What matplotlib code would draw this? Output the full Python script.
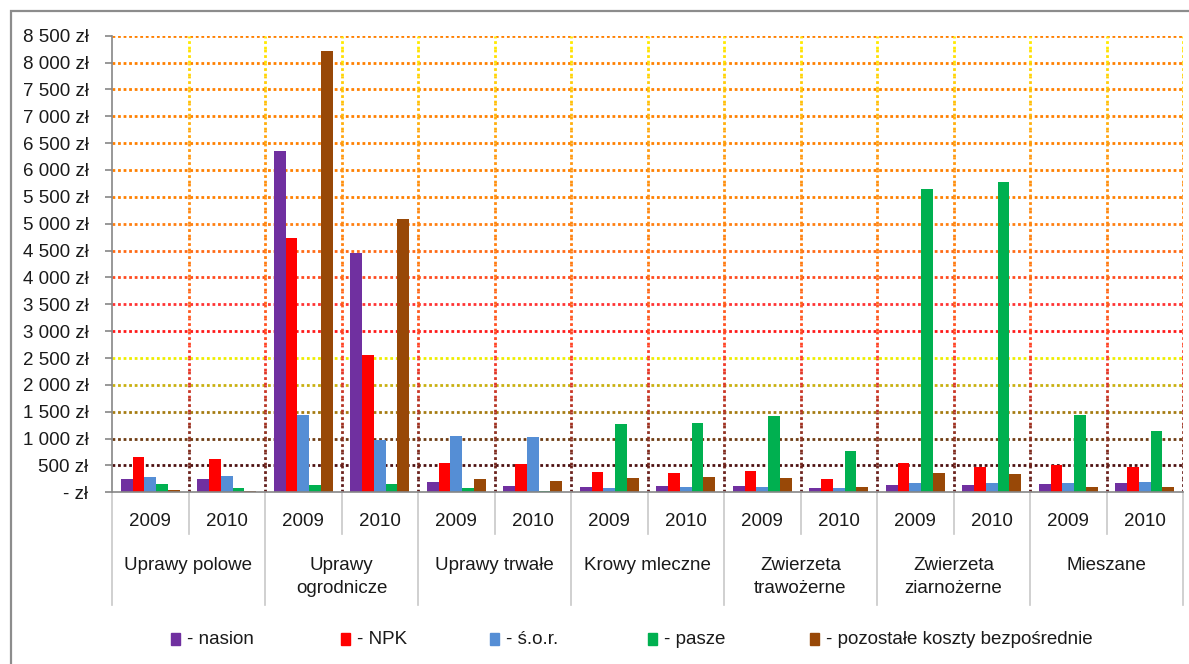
import matplotlib
matplotlib.use("Agg")
import matplotlib.pyplot as plt
import numpy as np
from matplotlib.patches import Rectangle
from matplotlib.lines import Line2D
from matplotlib.colors import LinearSegmentedColormap

# ---------------- data ----------------
groups = ["Uprawy polowe", "Uprawy\nogrodnicze", "Uprawy trwałe", "Krowy mleczne",
          "Zwierzeta\ntrawożerne", "Zwierzeta\nziarnożerne", "Mieszane"]
years = ["2009", "2010"]
series_names = ["- nasion", "- NPK", "- ś.o.r.", "- pasze", "- pozostałe koszty bezpośrednie"]
series_colors = ["#7030A0", "#FF0000", "#558ED5", "#00B050", "#984807"]

nasion    = [242, 242, 6350, 4451, 186, 112, 93, 112, 112, 74, 143, 143, 158, 177]
npk       = [651, 614, 4730, 2554, 539, 521, 372, 353, 391, 242, 552, 478, 517, 479]
sor       = [279, 298, 1438, 973, 1042, 1023, 74, 93, 93, 74, 180, 180, 177, 195]
pasze     = [149, 74, 136, 155, 74, 19, 1265, 1283, 1414, 763, 5649, 5779, 1443, 1141]
pozostale = [37, 19, 8208, 5084, 242, 205, 260, 279, 260, 93, 366, 348, 101, 101]
series = [nasion, npk, sor, pasze, pozostale]

yticks = list(range(0, 8501, 500))
ytick_labels = ["- zł", "500 zł", "1 000 zł", "1 500 zł", "2 000 zł", "2 500 zł", "3 000 zł",
                "3 500 zł", "4 000 zł", "4 500 zł", "5 000 zł", "5 500 zł", "6 000 zł",
                "6 500 zł", "7 000 zł", "7 500 zł", "8 000 zł", "8 500 zł"]

# gridline colours per level (500 .. 8500)
hgrid_colors = ["#4d1010", "#6e3b12", "#a67c12", "#c9b010", "#eeee00", "#ff1a1a", "#ff3333",
                "#ff4a1f", "#ff6a15", "#ff7f10", "#ff8000", "#ff8000", "#ff8000", "#ff8000",
                "#ff8000", "#ff8000", "#ff8000"]

# ---------------- figure ----------------
W, H = 1189, 664
FONT = ["Liberation Sans", "DejaVu Sans"]
FS = 13.5
TXT = "#1a1a1a"
plt.rcParams["font.family"] = FONT
fig = plt.figure(figsize=(W / 100, H / 100), dpi=100)

ax_left, ax_right, ax_top, ax_bot = 112, 1183, 35.7, 492.3
ax = fig.add_axes([ax_left / W, 1 - ax_bot / H, (ax_right - ax_left) / W, (ax_bot - ax_top) / H])

n = len(nasion)
x = np.arange(n)
bw = 0.154
for j, (vals, col, name) in enumerate(zip(series, series_colors, series_names)):
    ax.bar(x + (j - 2) * bw, vals, width=bw, color=col, zorder=3, label=name, linewidth=0)

ax.set_xlim(-0.5, n - 0.5)
ax.set_ylim(0, 8500)

# horizontal gridlines
for lvl, c in zip(yticks[1:], hgrid_colors):
    ax.axhline(lvl, color=c, lw=2.0, ls=(0, (1, 1)), zorder=1)

# vertical gridlines with gradient (yellow top -> dark brown bottom)
vcmap = LinearSegmentedColormap.from_list(
    "v", [(0.0, "#5a1a1a"), (0.12, "#8a3020"), (0.3, "#ff3a2a"), (0.5, "#ff7a10"),
          (0.75, "#ff9a10"), (1.0, "#ffee00")])
step = 250
for b in np.arange(0.5, n, 1.0):
    for y0 in range(0, 8500, step):
        c = vcmap((y0 + step / 2) / 8500)
        ax.plot([b, b], [y0, y0 + step], color=c, lw=2.0, ls=(0, (1, 1)), zorder=1,
                solid_capstyle="butt", dash_capstyle="butt")

# axes styling
for s in ["top", "right"]:
    ax.spines[s].set_visible(False)
for s in ["left", "bottom"]:
    ax.spines[s].set_color("#868686")
    ax.spines[s].set_linewidth(1.2)
    ax.spines[s].set_zorder(4)
ax.set_yticks(yticks)
ax.set_yticklabels(ytick_labels, fontsize=FS, color=TXT)
ax.tick_params(axis="y", length=5, width=1.2, color="#868686", pad=12)
ax.set_xticks([])

# multi-level x labels
axh = ax_bot - ax_top
def ya(py):
    return (ax_bot - py) / axh

tr = ax.get_xaxis_transform()
for i in range(n):
    ax.text(i, ya(521), years[i % 2], transform=tr, ha="center", va="center",
            fontsize=FS, color=TXT, clip_on=False)
for g, name in enumerate(groups):
    ax.text(2 * g + 0.5, ya(557), name, transform=tr, ha="center", va="top",
            fontsize=FS, color=TXT, linespacing=1.45, clip_on=False)

sep_color = "#c8c8c8"
for b in np.arange(-0.5, n, 1.0):
    idx = int(b + 0.5)
    end = 605 if idx % 2 == 0 else 534
    ax.add_line(Line2D([b, b], [0, ya(end)], transform=tr, color=sep_color, lw=1.2,
                       clip_on=False, zorder=2))

# legend (manual layout)
leg_x = [171, 341, 490, 648, 810]
leg_y = 639
for lx, col, name in zip(leg_x, series_colors, series_names):
    fig.patches.append(Rectangle((lx / W, 1 - (leg_y + 6) / H), 9 / W, 12 / H,
                                 transform=fig.transFigure, color=col))
    fig.text((lx + 16) / W, 1 - leg_y / H, name, ha="left", va="center",
             fontsize=FS, color=TXT)

# outer chart border
fig.patches.append(Rectangle((10.5 / W, -0.05), 1.2, 1 - 11 / H + 0.05,
                             transform=fig.transFigure, fill=False,
                             edgecolor="#8c8c8c", lw=1.6))

fig.savefig("out.png", dpi=100)
